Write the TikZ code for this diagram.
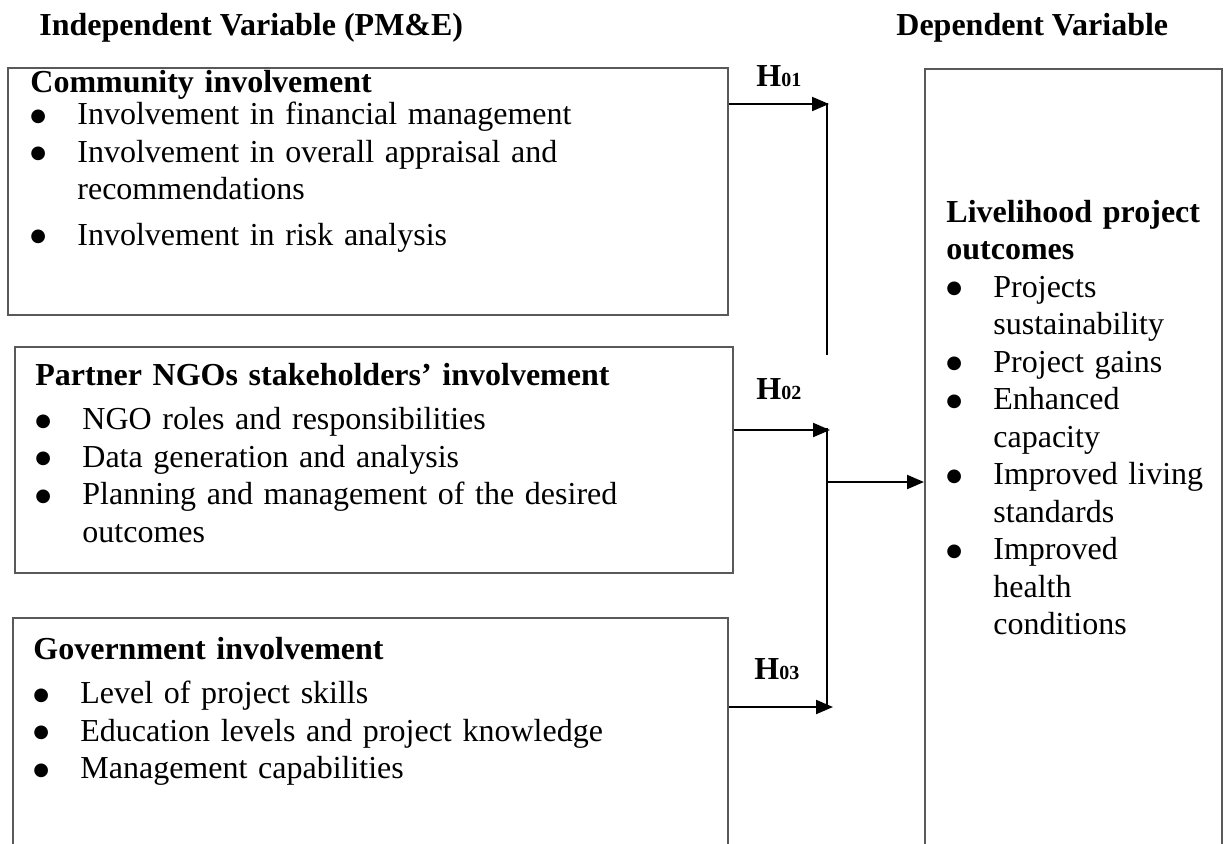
\documentclass[tikz,border=0pt]{standalone}
\usepackage{fontspec}
\setmainfont{Liberation Serif}
\newfontfamily\symfont{DejaVu Sans}
\usetikzlibrary{arrows.meta}

\newcommand\bl{\makebox[23.5pt][l]{\raisebox{1.6pt}{\symfont\fontsize{9}{9}\selectfont ●}}}
\newcommand\hg{\hspace*{23.5pt}}
\newcommand\hsub[1]{\textbf{H}{\fontsize{10}{12}\selectfont\bfseries #1}}

\tikzset{
    frame/.style={draw=black!65, line width=1pt, inner sep=0pt},
    boxtext/.style={anchor=base west, inner sep=0pt, text width=#1, align=left,
        font=\fontsize{16}{18.75}\selectfont},
    head/.style={anchor=base west, inner sep=0pt, font=\fontsize{16}{18.75}\selectfont\bfseries},
    arr/.style={line width=1pt, -{Triangle[length=8.5pt,width=7pt]}},
    vline/.style={line width=0.75pt},
}

\begin{document}
\begin{tikzpicture}[x=0.5pt,y=-0.5pt]
    \clip (0,0) rectangle (1224,843);
    % headings
    \node[head] (indep) at (39,35) {Independent Variable (PM\&E)};
    \node[head] (dep) at (896,35) {Dependent Variable};
    % boxes
    \node[frame, minimum width=360pt, minimum height=123.5pt] (comm) at (368,191.5) {};
    \node[frame, minimum width=359pt, minimum height=113pt] (ngo) at (374,460) {};
    \node[frame, minimum width=357.5pt, minimum height=141pt] (gov) at (370.5,759) {};
    \node[frame, minimum width=148.5pt, minimum height=415.5pt] (out) at (1073.5,484.5) {};
    % box texts
    \node[boxtext=340pt] (commtxt) at (30,92) {\textbf{Community involvement}\\[-2.5pt]
        \bl Involvement in financial management\\
        \bl Involvement in overall appraisal and\\
        \hg recommendations\\[4pt]
        \bl Involvement in risk analysis};
    \node[boxtext=340pt] (ngotxt) at (35,385) {\textbf{Partner NGOs stakeholders’ involvement}\\[3.5pt]
        \bl NGO roles and responsibilities\\
        \bl Data generation and analysis\\
        \bl Planning and management of the desired\\
        \hg outcomes};
    \node[boxtext=340pt] (govtxt) at (33,659) {\textbf{Government involvement}\\[3.5pt]
        \bl Level of project skills\\
        \bl Education levels and project knowledge\\
        \bl Management capabilities};
    \node[boxtext=140pt] (outtxt) at (946,222) {\textbf{Livelihood project}\\
        \textbf{outcomes}\\
        \bl Projects\\
        \hg sustainability\\
        \bl Project gains\\
        \bl Enhanced\\
        \hg capacity\\
        \bl Improved living\\
        \hg standards\\
        \bl Improved\\
        \hg health\\
        \hg conditions};
    % hypotheses
    \node[head] (h1) at (756,86) {\hsub{01}};
    \node[head] (h2) at (756,399) {\hsub{02}};
    \node[head] (h3) at (754,679) {\hsub{03}};
    % connectors
    \coordinate (j1) at (829,104);
    \coordinate (j2) at (830,430);
    \coordinate (j3) at (833,707);
    \coordinate (jo) at (828,482);
    \draw[arr] (comm.east |- j1) -- (j1);
    \draw[arr] (ngo.east |- j2) -- (j2);
    \draw[arr] (gov.east |- j3) -- (j3);
    \draw[vline] (827,103) -- (827,355);
    \draw[vline] (827,428) -- (827,707);
    \draw[arr] (jo) -- (out.west |- jo);
\end{tikzpicture}
\end{document}
